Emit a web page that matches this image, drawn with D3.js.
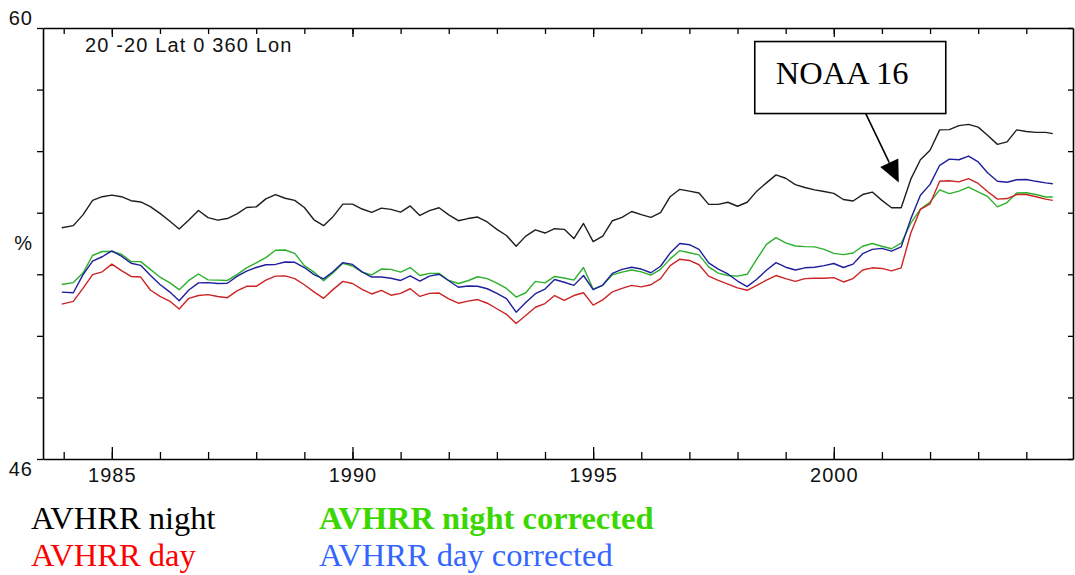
<!DOCTYPE html>
<html><head><meta charset="utf-8">
<script src="https://cdn.jsdelivr.net/npm/d3@7"></script>
<style>body{margin:0;background:#fff}svg{display:block}</style>
</head><body>
<svg id="c" width="1075" height="575"></svg>
<script>
// ---- data (decimal years, percent) ----
const years = [1983.96,1984.2,1984.4,1984.6,1984.8,1985.0,1985.2,1985.4,1985.6,1985.8,
1986.0,1986.2,1986.4,1986.6,1986.8,1987.0,1987.2,1987.4,1987.6,1987.8,
1988.0,1988.2,1988.4,1988.6,1988.8,1989.0,1989.2,1989.4,1989.6,1989.8,
1990.0,1990.2,1990.4,1990.6,1990.8,1991.0,1991.2,1991.4,1991.6,1991.8,
1992.0,1992.2,1992.4,1992.6,1992.8,1993.0,1993.2,1993.4,1993.6,1993.8,
1994.0,1994.2,1994.4,1994.6,1994.8,1995.0,1995.2,1995.4,1995.6,1995.8,
1996.0,1996.2,1996.4,1996.6,1996.8,1997.0,1997.2,1997.4,1997.6,1997.8,
1998.0,1998.2,1998.4,1998.6,1998.8,1999.0,1999.2,1999.4,1999.6,1999.8,
2000.0,2000.2,2000.4,2000.6,2000.8,2001.0,2001.2,2001.4,2001.6,2001.8,
2002.0,2002.2,2002.4,2002.6,2002.8,2003.0,2003.2,2003.4,2003.6,2003.8,
2004.0,2004.2,2004.4,2004.55];

const avhrrNight = [53.51,53.58,53.93,54.40,54.52,54.57,54.52,54.39,54.35,54.20,
53.98,53.73,53.47,53.76,54.07,53.84,53.76,53.81,53.96,54.17,
54.19,54.45,54.59,54.47,54.40,54.17,53.77,53.58,53.88,54.28,
54.28,54.12,54.01,54.15,54.11,54.02,54.22,53.91,54.07,54.16,
53.93,53.74,53.81,53.86,53.70,53.46,53.26,52.91,53.24,53.44,
53.34,53.48,53.46,53.16,53.65,53.06,53.24,53.74,53.85,54.04,
53.94,53.85,54.00,54.52,54.76,54.70,54.64,54.27,54.27,54.34,
54.21,54.34,54.70,54.97,55.23,55.12,54.91,54.82,54.74,54.69,
54.63,54.43,54.38,54.59,54.67,54.40,54.16,54.16,55.09,55.72,
56.03,56.69,56.70,56.83,56.87,56.78,56.51,56.22,56.30,56.69,
56.64,56.61,56.61,56.57];

const avhrrNightCorr = [51.67,51.73,52.04,52.61,52.74,52.74,52.65,52.41,52.41,52.16,
51.91,51.73,51.50,51.80,52.01,51.82,51.81,51.80,51.99,52.21,
52.37,52.54,52.78,52.79,52.68,52.28,52.07,51.79,52.05,52.36,
52.27,52.07,51.98,52.17,52.16,52.07,52.22,51.96,52.03,52.03,
51.80,51.70,51.79,51.92,51.86,51.71,51.54,51.26,51.40,51.77,
51.72,51.93,51.88,51.81,52.22,51.52,51.64,51.98,52.07,52.14,
52.08,51.97,52.16,52.50,52.77,52.70,52.63,52.24,52.04,51.96,
51.94,52.00,52.49,52.97,53.19,53.02,52.92,52.90,52.89,52.81,
52.68,52.64,52.69,52.91,53.00,52.91,52.83,53.01,53.66,54.12,
54.35,54.74,54.62,54.70,54.83,54.68,54.52,54.19,54.33,54.64,
54.65,54.59,54.51,54.51];

const avhrrDay = [51.03,51.12,51.54,51.99,52.08,52.33,52.12,51.93,51.91,51.49,
51.28,51.13,50.87,51.22,51.31,51.34,51.28,51.24,51.46,51.61,
51.61,51.81,51.94,51.95,51.86,51.66,51.43,51.22,51.51,51.77,
51.70,51.51,51.36,51.48,51.32,51.38,51.53,51.28,51.38,51.39,
51.20,51.06,51.13,51.18,51.06,50.88,50.70,50.40,50.66,50.93,
51.05,51.31,51.15,51.31,51.40,51.00,51.17,51.43,51.54,51.64,
51.59,51.66,51.86,52.28,52.49,52.45,52.31,51.94,51.80,51.68,
51.56,51.48,51.64,51.81,51.96,51.86,51.77,51.86,51.87,51.87,
51.89,51.75,51.86,52.14,52.21,52.19,52.11,52.21,53.34,54.11,
54.29,55.02,55.04,55.00,55.11,54.95,54.68,54.44,54.46,54.59,
54.59,54.52,54.44,54.40];

const avhrrDayCorr = [51.42,51.40,51.98,52.43,52.57,52.76,52.59,52.36,52.29,51.97,
51.67,51.43,51.14,51.49,51.72,51.73,51.70,51.71,51.93,52.10,
52.22,52.31,52.32,52.40,52.39,52.22,51.99,51.85,52.09,52.38,
52.32,52.08,51.91,51.91,51.87,51.80,51.95,51.78,51.94,52.00,
51.79,51.58,51.62,51.61,51.53,51.38,51.21,50.77,51.08,51.37,
51.52,51.83,51.74,51.64,51.96,51.50,51.65,52.03,52.16,52.23,
52.17,52.05,52.26,52.69,53.00,52.96,52.81,52.37,52.17,52.01,
51.78,51.60,51.84,52.13,52.38,52.23,52.14,52.21,52.23,52.28,
52.35,52.22,52.33,52.67,52.81,52.84,52.75,52.89,53.80,54.57,
54.92,55.54,55.74,55.72,55.84,55.65,55.29,55.02,54.99,55.07,
55.08,55.02,54.97,54.94];

const seriesNames  = ["AVHRR night corrected","AVHRR day","AVHRR day corrected","AVHRR night"];
const seriesValues = [avhrrNightCorr, avhrrDay, avhrrDayCorr, avhrrNight];
const seriesColors = ["#2cb02c","#cc2424","#1f1f9c","#1e1e1e"];

const minorYears = [1984,1985,1986,1987,1988,1989,1990,1991,1992,1993,1994,
                    1995,1996,1997,1998,1999,2000,2001,2002,2003,2004];
const majorYears = [1985,1990,1995,2000];
const yTicks = [46,48,50,52,54,56,58,60];
const yLabelVals = [60,53,46];
const yLabelText = ["60","%","46"];

const legendText   = ["AVHRR night","AVHRR night corrected","AVHRR day","AVHRR day corrected"];
const legendColors = ["#000000","#3ad800","#ff0000","#3366ff"];
const legendBold   = [false,true,false,false];

const regionLabel = "20 -20 Lat 0 360 Lon";
const annotation = {text:"NOAA 16", year:2001.35, value:54.98};

// ---- drawing ----
const svg = d3.select("#c");
const x = d3.scaleLinear().domain([1983.57, 2004.97]).range([43, 1073]);
const y = d3.scaleLinear().domain([46, 60]).range([459, 28]);
const axisFont = "'Liberation Sans', Arial, sans-serif";
const serif = "'Liberation Serif', 'Times New Roman', serif";

function styleAxis(g){
  g.select(".domain").attr("stroke","#000").attr("stroke-width",1.6);
  g.selectAll(".tick line").attr("stroke","#000").attr("stroke-width",1.3);
}
// bottom
svg.append("g").attr("transform",`translate(0,${y(46)})`)
  .call(d3.axisBottom(x).tickValues(minorYears).tickSizeInner(-7).tickSizeOuter(0).tickFormat(""))
  .call(styleAxis);
const bMaj = svg.append("g").attr("transform",`translate(0,${y(46)})`)
  .call(d3.axisBottom(x).tickValues(majorYears).tickSizeInner(-12).tickSizeOuter(0).tickPadding(9).tickFormat(d3.format("d")))
  .call(styleAxis);
bMaj.select(".domain").remove();
bMaj.selectAll("text").attr("font-family",axisFont).attr("font-size",20)
  .attr("letter-spacing","1px").attr("fill","#111");
// top
svg.append("g").attr("transform",`translate(0,${y(60)})`)
  .call(d3.axisTop(x).tickValues(minorYears).tickSizeInner(-6).tickSizeOuter(0).tickFormat(""))
  .call(styleAxis);
const tMaj = svg.append("g").attr("transform",`translate(0,${y(60)})`)
  .call(d3.axisTop(x).tickValues(majorYears).tickSizeInner(-9).tickSizeOuter(0).tickFormat(""))
  .call(styleAxis);
tMaj.select(".domain").remove();
// left
svg.append("g").attr("transform",`translate(${x.range()[0]},0)`)
  .call(d3.axisLeft(y).tickValues(yTicks).tickSizeInner(6).tickSizeOuter(0).tickFormat(""))
  .call(styleAxis);
// right
svg.append("g").attr("transform",`translate(${x.range()[1]},0)`)
  .call(d3.axisRight(y).tickValues(yTicks).tickSizeInner(-5).tickSizeOuter(0).tickFormat(""))
  .call(styleAxis);

// y labels
const yOff = {"60":-3,"%":6,"46":17};
svg.append("g").selectAll("text").data(yLabelVals).join("text")
  .attr("x",33).attr("y",(d,i)=>y(d)+yOff[yLabelText[i]])
  .attr("text-anchor","end").attr("font-family",axisFont).attr("font-size",20)
  .attr("letter-spacing","1px").attr("fill","#111")
  .text((d,i)=>yLabelText[i]);

// region label
svg.append("text").attr("x",85).attr("y",52).attr("font-family",axisFont)
  .attr("font-size",20).attr("letter-spacing","1.15px").attr("fill","#111").text(regionLabel);

// lines
const line = d3.line().x(d=>x(d[0])).y(d=>y(d[1]));
svg.append("g").selectAll("path").data(seriesValues).join("path")
  .attr("d",vals=>line(years.map((yr,i)=>[yr,vals[i]])))
  .attr("fill","none").attr("stroke",(d,i)=>seriesColors[i])
  .attr("stroke-width",1.4).attr("stroke-linejoin","round");

// annotation
const tipX = x(annotation.year), tipY = y(annotation.value);
const boxX = tipX-144, boxY = tipY-141, boxW = 191, boxH = 72;
const ann = svg.append("g");
ann.append("rect").attr("x",boxX).attr("y",boxY).attr("width",boxW).attr("height",boxH)
  .attr("fill","#fff").attr("stroke","#000").attr("stroke-width",1.6);
ann.append("text").attr("x",boxX+21).attr("y",boxY+42).attr("font-family",serif)
  .attr("font-size",32.5).attr("fill","#000").text(annotation.text);
const sx = boxX+111, sy = boxY+boxH;
const dx = tipX-sx, dy = tipY-sy, len = Math.hypot(dx,dy), ux=dx/len, uy=dy/len;
const headL = 22, headW = 10;
const bx = tipX-ux*headL, by = tipY-uy*headL;
ann.append("line").attr("x1",sx).attr("y1",sy).attr("x2",bx).attr("y2",by)
  .attr("stroke","#000").attr("stroke-width",1.6);
ann.append("path").attr("d",`M${tipX},${tipY}L${bx-uy*headW},${by+ux*headW}L${bx+uy*headW},${by-ux*headW}Z`)
  .attr("fill","#000");

// legend
const legX = [31,319,31,319], legY = [529,529,566,566];
svg.append("g").selectAll("text").data(legendText).join("text")
  .attr("x",(d,i)=>legX[i]).attr("y",(d,i)=>legY[i])
  .attr("font-family",serif).attr("font-size",32.5)
  .attr("font-weight",(d,i)=>legendBold[i]?"bold":"normal")
  .attr("fill",(d,i)=>legendColors[i]).text(d=>d);
</script>
</body></html>
